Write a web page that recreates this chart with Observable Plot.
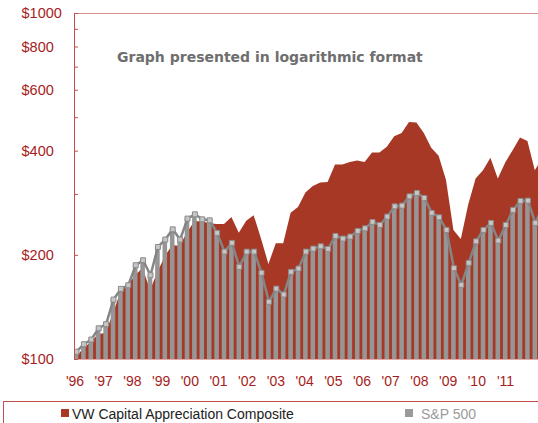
<!DOCTYPE html>
<html><head><meta charset="utf-8">
<script src="https://cdn.jsdelivr.net/npm/d3@7"></script>
<script src="https://cdn.jsdelivr.net/npm/@observablehq/plot@0.6"></script>
<style>
html,body{margin:0;padding:0;overflow:hidden;background:#fff;width:538px;height:423px;}
#wrap{position:relative;width:538px;height:423px;overflow:hidden;}
#title{position:absolute;left:117px;top:50px;font-family:"DejaVu Sans",Verdana,sans-serif;font-weight:bold;font-size:14px;line-height:14px;color:#6e6e6e;white-space:nowrap;}
#legend{position:absolute;left:3px;top:401px;width:560px;height:40px;border:1px solid #c0504d;box-sizing:border-box;}
.sw{position:absolute;width:8px;height:8px;top:7px;}
.lt{position:absolute;top:5px;font-family:"Liberation Sans",Arial,sans-serif;font-size:14px;line-height:14px;white-space:nowrap;}
</style></head>
<body>
<div id="wrap">
  <div id="chart"></div>
  <div id="title">Graph presented in logarithmic format</div>
  <div id="legend">
    <div class="sw" style="left:57px;background:#a83826"></div>
    <div class="lt" style="left:68px;color:#222">VW Capital Appreciation Composite</div>
    <div class="sw" style="left:401px;background:#9a9a9a"></div>
    <div class="lt" style="left:417px;color:#9a9a9a">S&amp;P 500</div>
  </div>
</div>
<script>
// Quarterly growth of $100 (Q1 1996 ... Q4 2011)
const vwComposite = [101.3, 107.6, 112.0, 118.1, 118.9, 135.8, 156.1, 163.6, 174.8, 183.2,
  158.2, 178.4, 198.3, 213.5, 212.1, 232.6, 250.3, 250.3, 247.0, 245.4,
  245.4, 257.1, 231.5, 250.8, 260.5, 223.1, 188.2, 215.9, 215.9, 264.6,
  274.8, 302.6, 316.1, 323.5, 324.6, 365.0, 365.0, 371.3, 374.8, 371.3,
  395.3, 395.3, 410.3, 440.5, 450.3, 484.5, 482.6, 450.3, 407.6, 386.5,
  328.9, 235.8, 222.1, 279.7, 332.6, 351.4, 381.4, 332.6, 369.8, 401.4,
  436.7, 426.9, 351.4, 380.6];
const sp500 = [105.3, 110.7, 114.2, 123.1, 126.5, 149.0, 160.0, 163.9, 187.3, 193.6,
  175.2, 211.5, 222.1, 237.8, 222.1, 255.4, 262.8, 254.2, 252.5, 232.2,
  205.0, 217.3, 185.3, 205.0, 205.0, 178.1, 146.8, 160.3, 154.1, 179.2,
  183.2, 205.0, 209.2, 212.4, 208.8, 227.6, 223.6, 226.6, 235.3, 239.4,
  249.8, 244.9, 258.8, 277.1, 278.4, 296.2, 303.0, 293.1, 265.3, 257.6,
  236.9, 183.6, 164.3, 190.3, 219.6, 236.9, 248.2, 220.6, 244.9, 270.6,
  287.3, 287.9, 248.2, 276.6];
const yearLabels = ["'96","'97","'98","'99","'00","'01","'02","'03","'04","'05","'06","'07","'08","'09","'10","'11"];
const yTickValues = [100, 200, 300, 400, 500, 600, 700, 800, 900, 1000];
const yLabelValues = [100, 200, 400, 600, 800, 1000];

const data = sp500.map((v, i) => ({i, sp: v, vw: vwComposite[i]}));
const xMin = -0.27, xMax = 62.43;
const yearStart = -0.2, yearStep = 3.878;
const xTickPos = yearLabels.map((_, j) => yearStart + j * yearStep);
const labelAt = new Map(xTickPos.map((p, j) => [p, yearLabels[j]]));
const red = "#a83826", axisRed = "#c0504d", textRed = "#a61c1c";

const chart = Plot.plot({
  width: 538, height: 398,
  marginLeft: 74, marginRight: 0, marginTop: 13, marginBottom: 39,
  style: {fontFamily: "'Liberation Sans', Arial, sans-serif", color: textRed, background: "transparent", overflow: "hidden"},
  x: {type: "linear", domain: [xMin, xMax], axis: null, label: null},
  y: {type: "log", domain: [100, 1000], axis: null, label: null},
  marks: [
    Plot.areaY(data, {x: "i", y1: 100, y2: "vw", fill: red, clip: true}),
    Plot.rect(data, {x1: d => d.i - 0.31, x2: d => d.i + 0.31, y1: 100, y2: "sp", fill: "#969696", clip: true}),
    Plot.line(data, {x: "i", y: "sp", stroke: "#858585", strokeWidth: 2.5, clip: true}),
    Plot.dot(data, {x: "i", y: "sp", symbol: "square", r: 2.8, fill: "#c6c6c6", stroke: "#8a8a8a", strokeWidth: 1, clip: true}),
    Plot.ruleY([100], {stroke: "#e4aaaa"}),
    Plot.ruleY([1000], {stroke: "#d88c8c"}),
    Plot.ruleX([xMin], {stroke: axisRed}),
    Plot.axisY(yTickValues, {tickSize: -4, tickFormat: () => "", stroke: axisRed, label: null}),
    Plot.axisY(yLabelValues, {tickSize: 0, tickPadding: 53, textAnchor: "start", tickFormat: d => "$" + d, fontSize: 14.5, fill: textRed, label: null}),
    Plot.axisX(xTickPos, {tickSize: 0, tickPadding: 17, tickFormat: d => labelAt.get(d), fontSize: 14, fill: textRed, label: null})
  ]
});
document.getElementById("chart").appendChild(chart);
</script>
</body></html>
